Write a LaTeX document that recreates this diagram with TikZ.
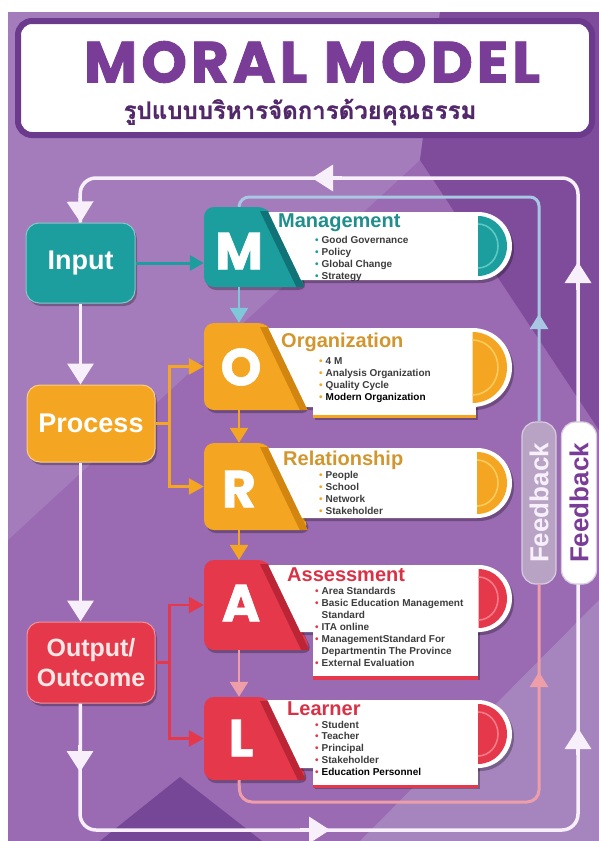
\documentclass[tikz,border=0pt]{standalone}
\usepackage{fontspec}
\setmainfont{Liberation Sans}
\newfontfamily\pop{Poppins}[FakeBold=1.2]
\newfontfamily\poptitle{Poppins}[LetterSpace=7,FakeBold=1.6]
\newfontfamily\thaifont[Script=Thai]{Loma}[FakeBold=1]
\usetikzlibrary{arrows.meta}
\definecolor{bgbase}{HTML}{9A6AB2}
\definecolor{bglight}{HTML}{A47CBB}
\definecolor{bgdark}{HTML}{7E4C9B}
\definecolor{bglight2}{HTML}{A685BE}
\definecolor{bgdark2}{HTML}{764697}
\definecolor{hdrborder}{HTML}{6B3A8C}
\definecolor{hdrtext}{HTML}{7A3D97}
\definecolor{thaitext}{HTML}{52286A}
\definecolor{wcol}{HTML}{F7F0FA}
\definecolor{cteal}{HTML}{1C9D9E}
\definecolor{ctealdk}{HTML}{107378}
\definecolor{cteallt}{HTML}{5CC9C6}
\definecolor{corange}{HTML}{F4A623}
\definecolor{corangedk}{HTML}{D3860F}
\definecolor{corangelt}{HTML}{F9CB5E}
\definecolor{cred}{HTML}{E5394B}
\definecolor{creddk}{HTML}{BC2536}
\definecolor{credlt}{HTML}{F47B88}
\definecolor{ttlteal}{HTML}{1F8E8C}
\definecolor{ttlorange}{HTML}{D2962F}
\definecolor{ttlred}{HTML}{D93246}
\definecolor{bultxt}{HTML}{3C3C3C}
\definecolor{cblue}{HTML}{A8C7E2}
\definecolor{ccyan}{HTML}{7FC8DC}
\definecolor{cpink}{HTML}{EE9EA8}
\definecolor{pillgrey}{HTML}{B9A3C5}
\definecolor{pillgreyb}{HTML}{D8CBE0}
\definecolor{outtxt}{HTML}{FBE6E6}

\newcommand\bu[1]{\textcolor{#1}{\textbullet}}
% #1 main, #2 dark, #3 light, #4 top, #5 bottom, #6 card top, #7 card bottom, #8 name
\newcommand\mrow[8]{%
  \pgfmathsetmacro\xbb{268+0.48*(#5-#4)}%
  \pgfmathsetmacro\xct{266+0.48*(#6-#4)}%
  \pgfmathsetmacro\xcb{266+0.48*(#7-#4)}%
  \pgfmathsetmacro\xdt{258+0.48*4}%
  \pgfmathsetmacro\xdtt{266+0.48*4}%
  \pgfmathsetmacro\xdb{258+0.48*(#5-#4)}%
  \pgfmathsetmacro\xdc{266+0.48*(#5-#4)}%
  \pgfmathsetmacro\rr{(#7-#6)/2}%
  \pgfmathsetmacro\xarc{512-\rr}%
  \fill[shadowed,#1,rounded corners=10pt] (204,#4) -- (268,#4) -- (\xbb,#5) -- (204,#5) -- cycle;
  \fill[#2] (\xdt,#4+4) -- (\xdtt,#4+4) -- (\xdc,#5) -- (\xdb,#5) -- cycle;
  \fill[shadowed,white] (\xct,#6) -- (\xarc,#6) arc[start angle=-90,end angle=90,radius=\rr] -- (\xcb,#7) -- cycle;
  \fill[#1] (\xarc,#6+4) arc[start angle=-90,end angle=90,x radius=\rr-5,y radius=\rr-4] -- cycle;
  \draw[#3,line width=1.6pt] (\xarc,#6+12) arc[start angle=-90,end angle=90,x radius=\rr-14,y radius=\rr-12];
  \node[inner sep=0pt,minimum width=70pt,minimum height={#5-#4}] (#8) at (239,{(#4+#5)/2}) {};
}

\begin{document}
\begin{tikzpicture}[x=1pt,y=-1pt,
  shadowed/.style={preaction={fill=black,opacity=.28,transform canvas={shift={(2pt,-3pt)}}}},
  wline/.style={draw=wcol,line width=3.5pt},
  wtip/.style={draw=wcol,line width=3.5pt,-{Triangle[length=21pt,width=26pt,fill=wcol]}},
  lbox/.style={shadowed,fill=#1,draw=#1!55!white,line width=1pt,rounded corners=13pt,inner sep=0pt},
  lbl/.style={font=\bfseries\fontsize{27}{29}\selectfont,align=center,inner sep=0pt},
  letter/.style={font=\pop\bfseries\fontsize{52}{52}\selectfont,inner sep=0pt,text=white},
  ttl/.style={anchor=base west,font=\bfseries\fontsize{20}{20}\selectfont,inner sep=0pt},
  btext/.style={anchor=base west,font=\bfseries\fontsize{10}{12}\selectfont,text=bultxt,inner sep=0pt},
  conn/.style={line width=2.6pt,draw=#1,-{Triangle[length=15pt,width=18pt,fill=#1]}},
  brk/.style={line width=2.4pt,draw=#1},
  fbtext/.style={rotate=90,font=\bfseries\fontsize{26}{26}\selectfont,inner sep=0pt}
]
\useasboundingbox (0,0) rectangle (599,841);
% background
\fill[white] (0,0) rectangle (599,841);
\fill[bgbase] (8,12) rectangle (599,841);
\fill[bglight] (8,12) -- (440,12) -- (420,160) -- (8,540) -- cycle;
\fill[bgdark] (440,12) -- (599,12) -- (599,430) -- (420,160) -- cycle;
\fill[bglight2] (599,600) -- (599,841) -- (360,841) -- cycle;
\fill[bgdark2] (180,777) -- (262,841) -- (100,841) -- cycle;

% header
\node[draw=hdrborder,line width=6pt,fill=white,rounded corners=14pt,minimum width=574pt,minimum height=114pt] (header) at (305,78) {};
\node[font=\poptitle\bfseries\fontsize{58}{58}\selectfont,text=hdrtext,inner sep=0pt] (title) at (312,62) {MORAL MODEL};
\node[font=\thaifont\bfseries\fontsize{24}{24}\selectfont,text=thaitext,inner sep=0pt] (subtitle) at (300,112) {รูปแบบบริหารจัดการด้วยคุณธรรม};

% left boxes
\node[lbox=cteal,minimum width=109pt,minimum height=80pt] (input) at (80.5,263) {};
\node[lbox=corange,minimum width=128pt,minimum height=77pt] (process) at (91,423.5) {};
\node[lbox=cred,minimum width=128pt,minimum height=81pt] (output) at (91,662.5) {};
\node[lbl,text=white] (inputlbl) at (input.center) {Input};
\node[lbl,text=white] (processlbl) at (process.center) {Process};
\node[lbl,font=\bfseries\fontsize{25}{30}\selectfont,text=outtxt] (outputlbl) at (output.center) {Output/\\Outcome};

% outer white loop
\coordinate (bl) at (80,830);
\coordinate (br) at (578,830);
\coordinate (tr) at (578,178);
\coordinate (tl) at (80,178);
\draw[wline,rounded corners=16pt] (output.south -| input.south) -- (bl) -- (br) -- (tr) -- (tl) -- (input.north);
\coordinate (a1) at (80,198);
\draw[wtip] (a1) -- (input.north);
\draw[wtip] (input.south) -- (input.south |- process.north);
\draw[wtip] (process.south -| input.south) -- (output.north -| input.south);
\coordinate (a4s) at (80,745);
\coordinate (a4e) at (80,772);
\draw[wtip] (a4s) -- (a4e);
\coordinate (a5s) at (300,830);
\coordinate (a5e) at (330,830);
\draw[wtip] (a5s) -- (a5e);
\coordinate (a6s) at (342,178);
\coordinate (a6e) at (312,178);
\draw[wtip] (a6s) -- (a6e);
\coordinate (a7s) at (578,290);
\coordinate (a7e) at (578,262);
\draw[wtip] (a7s) -- (a7e);
\coordinate (a8s) at (578,755);
\coordinate (a8e) at (578,728);
\draw[wtip] (a8s) -- (a8e);

% rows
\mrow{cteal}{ctealdk}{cteallt}{207}{287}{212}{280}{Mb}
\mrow{corange}{corangedk}{corangelt}{323}{410}{328}{407}{Ob}
\fill[shadowed,white] (313,405) rectangle (476,417);
\fill[corange] (313,415) rectangle (476,418);
\mrow{corange}{corangedk}{corangelt}{443}{530}{448}{518}{Rb}
\mrow{cred}{creddk}{credlt}{560}{650}{565}{632}{Ab}
\fill[shadowed,white] (313,630) rectangle (478,677);
\fill[cred] (313,676) rectangle (478,680);
\mrow{cred}{creddk}{credlt}{697}{780}{700}{768}{Lb}
\fill[shadowed,white] (313,766) rectangle (478,786);
\fill[cred] (313,785) rectangle (478,788);

% letters
\node[letter] (Mlet) at (239,251) {M};
\node[letter] (Olet) at (241,367) {O};
\node[letter] (Rlet) at (239,489) {R};
\node[letter] (Alet) at (241,603) {A};
\node[letter] (Llet) at (241,738) {L};

% titles
\node[ttl,text=ttlteal] (Mttl) at (278,227) {Management};
\node[ttl,text=ttlorange] (Ottl) at (281,347) {Organization};
\node[ttl,text=ttlorange] (Rttl) at (283,465) {Relationship};
\node[ttl,text=ttlred] (Attl) at (287,581) {Assessment};
\node[ttl,text=ttlred] (Lttl) at (287,715) {Learner};

% bullets
\node[btext] (Mtxt) at (315,243.5) {\begin{tabular}[t]{@{}l@{\hspace{3pt}}l@{}}
\bu{cteal}&Good Governance\\ \bu{cteal}&Policy\\ \bu{cteal}&Global Change\\ \bu{cteal}&Strategy\end{tabular}};
\node[btext] (Otxt) at (319,364.5) {\begin{tabular}[t]{@{}l@{\hspace{3pt}}l@{}}
\bu{corange}&4 M\\ \bu{corange}&Analysis Organization\\ \bu{corange}&Quality Cycle\\ \bu{corange}&\textcolor{black}{Modern Organization}\end{tabular}};
\node[btext] (Rtxt) at (319,478) {\begin{tabular}[t]{@{}l@{\hspace{3pt}}l@{}}
\bu{corange}&People\\ \bu{corange}&School\\ \bu{corange}&Network\\ \bu{corange}&Stakeholder\end{tabular}};
\node[btext] (Atxt) at (315,594) {\begin{tabular}[t]{@{}l@{\hspace{3pt}}l@{}}
\bu{cred}&Area Standards\\ \bu{cred}&Basic Education Management\\ &Standard\\ \bu{cred}&ITA online\\ \bu{cred}&ManagementStandard For\\ &Departmentin The Province\\ \bu{cred}&External Evaluation\end{tabular}};
\node[btext,font=\bfseries\fontsize{10}{11.8}\selectfont] (Ltxt) at (315,728) {\begin{tabular}[t]{@{}l@{\hspace{3pt}}l@{}}
\bu{cred}&Student\\ \bu{cred}&Teacher\\ \bu{cred}&Principal\\ \bu{cred}&Stakeholder\\ \bu{cred}&\textcolor{black}{Education Personnel}\end{tabular}};

% feedback pills
\node[fill=pillgrey,draw=pillgreyb,line width=1.2pt,rounded corners=14pt,minimum width=34pt,minimum height=162pt,inner sep=0pt] (fb1) at (539,503) {};
\node[fill=white,draw=pillgreyb,line width=1.2pt,rounded corners=14pt,minimum width=35pt,minimum height=162pt,inner sep=0pt] (fb2) at (579,503) {};
\node[fbtext,text=wcol] (fb1t) at (fb1.center) {Feedback};
\node[fbtext,text=hdrtext] (fb2t) at (fb2.center) {Feedback};

% inner feedback loops
\coordinate (btl) at (240,197);
\coordinate (btr) at (539,197);
\draw[draw=cblue,line width=3pt,rounded corners=9pt] (Mb.north) -- (btl) -- (btr) -- (fb1.north);
\coordinate (b1s) at (539,338);
\coordinate (b1e) at (539,314);
\draw[conn=cblue] (b1s) -- (b1e);
\coordinate (pbr) at (539,802);
\coordinate (pbl) at (240,802);
\draw[draw=cpink,line width=3pt,rounded corners=12pt] (fb1.south) -- (pbr) -- (pbl) -- (Lb.south);
\coordinate (p1s) at (539,696);
\coordinate (p1e) at (539,672);
\draw[conn=cpink] (p1s) -- (p1e);

% connectors between letter boxes
\draw[conn=ccyan] (Mb.south) -- (Ob.north);
\draw[conn=corange] (Ob.south) -- (Rb.north);
\draw[conn=corange] (Rb.south) -- (Ab.north);
\draw[conn=cpink] (Ab.south) -- (Lb.north);

% input to M
\draw[line width=3pt,draw=cteal,-{Triangle[length=14pt,width=15pt,fill=cteal]}] (input.east) -- (Mb.west |- input.east);

% process bracket
\coordinate (pj) at ([xshift=14pt]process.east);
\draw[brk=corange] (process.east) -- (pj);
\draw[brk=corange,-{Triangle[length=15pt,width=16pt,fill=corange]}] (pj) |- (Ob.west);
\draw[brk=corange,-{Triangle[length=15pt,width=16pt,fill=corange]}] (pj) |- (Rb.west);
% output bracket
\coordinate (oj) at ([xshift=14pt]output.east);
\draw[brk=cred] (output.east) -- (oj);
\draw[brk=cred,-{Triangle[length=15pt,width=16pt,fill=cred]}] (oj) |- (Ab.west);
\draw[brk=cred,-{Triangle[length=15pt,width=16pt,fill=cred]}] (oj) |- (Lb.west);
\end{tikzpicture}
\end{document}
